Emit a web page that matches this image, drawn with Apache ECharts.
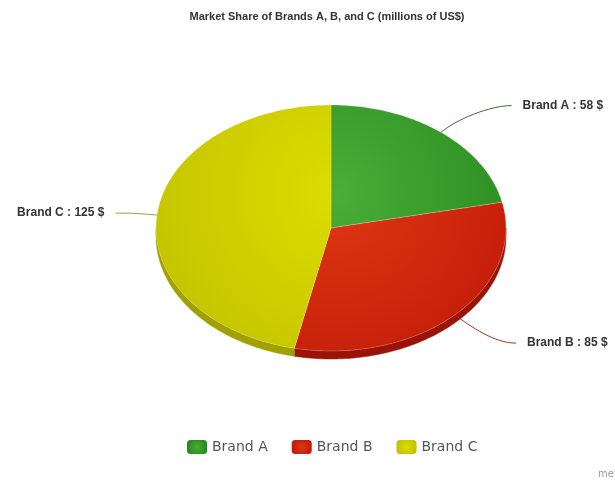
<!DOCTYPE html>
<html>
<head>
<meta charset="utf-8">
<script src="https://cdn.jsdelivr.net/npm/echarts@6/dist/echarts.min.js"></script>
<style>
  html, body { margin: 0; padding: 0; background: #ffffff; }
  #chart { width: 615px; height: 480px; }
</style>
</head>
<body>
<div id="chart"></div>
<script>
// Market share figures (millions of US$)
const brands = ['Brand A', 'Brand B', 'Brand C'];
const sales = [58, 85, 125];

// Slice colours: [light centre, dark rim], side wall, connector line
const topColors = [['#4aae37', '#27881e'], ['#df3813', '#c01a08'], ['#dddd00', '#c2c200']];
const sideColors = ['#1f6d17', '#9a1306', '#a0a000'];
const lineColors = ['#3d6b33', '#a03424', '#9d9d30'];

// Tilted (elliptical) pie geometry in pixels
const pie = { cx: 331, cy: 228, rx: 175, ry: 123, depth: 8 };
const total = sales.reduce((a, b) => a + b, 0);

// theta is measured clockwise from 12 o'clock
function pt(theta, k, dy) {
  return [pie.cx + pie.rx * k * Math.sin(theta), pie.cy + (dy || 0) - pie.ry * k * Math.cos(theta)];
}
function arcPoints(a1, a2, k, dy) {
  const n = Math.max(2, Math.ceil((a2 - a1) / (Math.PI / 180)));
  const pts = [];
  for (let i = 0; i <= n; i++) pts.push(pt(a1 + (a2 - a1) * i / n, k, dy));
  return pts;
}

function renderSlice(idx) {
  return function (params, api) {
    const v = api.value(0);
    const before = sales.slice(0, idx).reduce((a, b) => a + b, 0);
    const a1 = before / total * 2 * Math.PI;
    const a2 = (before + v) / total * 2 * Math.PI;
    const children = [];

    // front wall: only the part of the rim that faces the viewer
    const s1 = Math.max(a1, Math.PI / 2), s2 = Math.min(a2, Math.PI * 3 / 2);
    if (s2 > s1) {
      const pts = arcPoints(s1, s2, 1, 0).concat(arcPoints(s1, s2, 1, pie.depth).reverse());
      children.push({
        type: 'polygon', z2: 1,
        shape: { points: pts },
        style: { fill: sideColors[idx], stroke: sideColors[idx], lineWidth: 0.5 }
      });
    }

    // top face
    const grad = new echarts.graphic.RadialGradient(pie.cx + 5, pie.cy - 35, 215, [
      { offset: 0, color: topColors[idx][0] },
      { offset: 1, color: topColors[idx][1] }
    ], true);
    children.push({
      type: 'polygon', z2: 10,
      shape: { points: [[pie.cx, pie.cy]].concat(arcPoints(a1, a2, 1, 0)) },
      style: { fill: grad, stroke: 'rgba(255,255,255,0.35)', lineWidth: 0.6 }
    });

    // connector and label
    const mid = (a1 + a2) / 2;
    const sign = Math.sin(mid) >= 0 ? 1 : -1;
    const p0 = pt(mid, 1, 0);
    const c1 = pt(mid, 1.13, 0);
    const labelY = pie.cy + 2 - (pie.ry + 37) * Math.cos(mid);
    const t = (labelY - pie.cy) / (pie.ry + 100);
    const endX = pie.cx + sign * (pie.rx + 41) * Math.sqrt(Math.max(0, 1 - t * t));
    children.push({
      type: 'bezierCurve', z2: 5,
      shape: { x1: p0[0], y1: p0[1], cpx1: c1[0], cpy1: c1[1], cpx2: endX - sign * 22, cpy2: labelY, x2: endX, y2: labelY },
      style: { stroke: lineColors[idx], lineWidth: 1, fill: null }
    });
    children.push({
      type: 'text', z2: 20,
      style: {
        text: brands[idx] + ' : ' + v + ' $',
        x: endX + sign * 11, y: labelY,
        align: sign > 0 ? 'left' : 'right', verticalAlign: 'middle',
        font: 'bold 12px "Liberation Sans", Arial, sans-serif',
        fill: '#333333'
      }
    });
    return { type: 'group', children: children };
  };
}

const chart = echarts.init(document.getElementById('chart'), null, { renderer: 'canvas' });
chart.setOption({
  animation: false,
  backgroundColor: '#ffffff',
  title: {
    text: 'Market Share of Brands A, B, and C (millions of US$)',
    left: 322, top: 6, textAlign: 'center',
    textStyle: { fontFamily: '"Liberation Sans", Arial, sans-serif', fontSize: 11, fontWeight: 'bold', color: '#333333' }
  },
  legend: {
    left: 187, top: 440, padding: 0,
    itemWidth: 20, itemHeight: 14, itemGap: 24,
    icon: 'roundRect',
    textStyle: { fontFamily: '"DejaVu Sans", sans-serif', fontSize: 14, color: '#555555' },
    data: brands.map((b, i) => ({
      name: b,
      itemStyle: {
        color: new echarts.graphic.RadialGradient(0.5, 0.5, 0.7, [
          { offset: 0, color: topColors[i][0] },
          { offset: 1, color: topColors[i][1] }
        ])
      }
    }))
  },
  graphic: [{
    type: 'text', x: 598, y: 474,
    style: { text: 'meta-chart.com', font: '10px "DejaVu Sans", sans-serif', fill: '#999999', verticalAlign: 'middle' }
  }],
  series: brands.map((b, i) => ({
    type: 'custom',
    name: b,
    coordinateSystem: 'none',
    silent: true,
    itemStyle: { color: topColors[i][1] },
    data: [[sales[i]]],
    renderItem: renderSlice(i)
  }))
});
</script>
</body>
</html>
